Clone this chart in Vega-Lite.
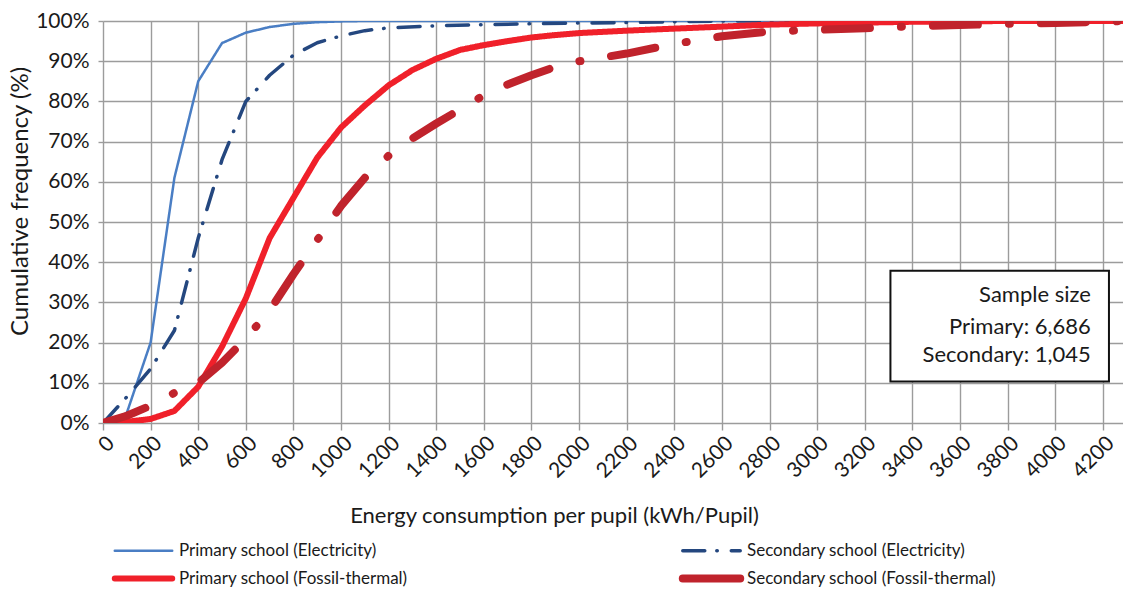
{
  "$schema": "https://vega.github.io/schema/vega-lite/v6.json",
  "width": 1020,
  "height": 402,
  "autosize": {"type": "none"},
  "padding": {"left": 103, "top": 21, "right": 0, "bottom": 169},
  "background": "white",
  "config": {
    "view": {"stroke": null},
    "font": "Lato",
    "axis": {"labelFont": "Lato", "titleFont": "Lato", "labelColor": "#1a1a1a", "titleColor": "#1a1a1a", "titleFontWeight": "normal"},
    "legend": {"labelFont": "Lato"}
  },
  "datasets": {
    "curves": [
      {"series": "Primary school (Electricity)", "x": 0, "y": 0},
      {"series": "Primary school (Electricity)", "x": 100, "y": 2.5},
      {"series": "Primary school (Electricity)", "x": 200, "y": 20},
      {"series": "Primary school (Electricity)", "x": 300, "y": 61},
      {"series": "Primary school (Electricity)", "x": 400, "y": 85},
      {"series": "Primary school (Electricity)", "x": 500, "y": 94.5},
      {"series": "Primary school (Electricity)", "x": 600, "y": 97.1},
      {"series": "Primary school (Electricity)", "x": 700, "y": 98.5},
      {"series": "Primary school (Electricity)", "x": 800, "y": 99.3},
      {"series": "Primary school (Electricity)", "x": 900, "y": 99.7},
      {"series": "Primary school (Electricity)", "x": 1000, "y": 99.9},
      {"series": "Primary school (Electricity)", "x": 1100, "y": 100},
      {"series": "Primary school (Electricity)", "x": 4300, "y": 100},
      {"series": "Secondary school (Electricity)", "x": 0, "y": 0},
      {"series": "Secondary school (Electricity)", "x": 100, "y": 6.5},
      {"series": "Secondary school (Electricity)", "x": 200, "y": 13.5},
      {"series": "Secondary school (Electricity)", "x": 300, "y": 23},
      {"series": "Secondary school (Electricity)", "x": 400, "y": 46},
      {"series": "Secondary school (Electricity)", "x": 500, "y": 65.5},
      {"series": "Secondary school (Electricity)", "x": 600, "y": 80},
      {"series": "Secondary school (Electricity)", "x": 700, "y": 86.5},
      {"series": "Secondary school (Electricity)", "x": 800, "y": 91.5},
      {"series": "Secondary school (Electricity)", "x": 900, "y": 94.6},
      {"series": "Secondary school (Electricity)", "x": 1000, "y": 96.3},
      {"series": "Secondary school (Electricity)", "x": 1100, "y": 97.6},
      {"series": "Secondary school (Electricity)", "x": 1200, "y": 98.3},
      {"series": "Secondary school (Electricity)", "x": 1400, "y": 98.8},
      {"series": "Secondary school (Electricity)", "x": 1600, "y": 99.1},
      {"series": "Secondary school (Electricity)", "x": 1800, "y": 99.3},
      {"series": "Secondary school (Electricity)", "x": 2000, "y": 99.5},
      {"series": "Secondary school (Electricity)", "x": 2200, "y": 99.6},
      {"series": "Secondary school (Electricity)", "x": 2400, "y": 99.8},
      {"series": "Secondary school (Electricity)", "x": 2600, "y": 100},
      {"series": "Secondary school (Electricity)", "x": 4300, "y": 100},
      {"series": "Primary school (Fossil-thermal)", "x": 0, "y": 0},
      {"series": "Primary school (Fossil-thermal)", "x": 100, "y": 0.3},
      {"series": "Primary school (Fossil-thermal)", "x": 200, "y": 1},
      {"series": "Primary school (Fossil-thermal)", "x": 300, "y": 3},
      {"series": "Primary school (Fossil-thermal)", "x": 400, "y": 9},
      {"series": "Primary school (Fossil-thermal)", "x": 500, "y": 19},
      {"series": "Primary school (Fossil-thermal)", "x": 600, "y": 31},
      {"series": "Primary school (Fossil-thermal)", "x": 700, "y": 46},
      {"series": "Primary school (Fossil-thermal)", "x": 800, "y": 56},
      {"series": "Primary school (Fossil-thermal)", "x": 900, "y": 66},
      {"series": "Primary school (Fossil-thermal)", "x": 1000, "y": 73.5},
      {"series": "Primary school (Fossil-thermal)", "x": 1100, "y": 79},
      {"series": "Primary school (Fossil-thermal)", "x": 1200, "y": 84},
      {"series": "Primary school (Fossil-thermal)", "x": 1300, "y": 87.8},
      {"series": "Primary school (Fossil-thermal)", "x": 1400, "y": 90.6},
      {"series": "Primary school (Fossil-thermal)", "x": 1500, "y": 92.8},
      {"series": "Primary school (Fossil-thermal)", "x": 1600, "y": 94},
      {"series": "Primary school (Fossil-thermal)", "x": 1700, "y": 95},
      {"series": "Primary school (Fossil-thermal)", "x": 1800, "y": 95.9},
      {"series": "Primary school (Fossil-thermal)", "x": 1900, "y": 96.5},
      {"series": "Primary school (Fossil-thermal)", "x": 2000, "y": 97},
      {"series": "Primary school (Fossil-thermal)", "x": 2200, "y": 97.6},
      {"series": "Primary school (Fossil-thermal)", "x": 2400, "y": 98.1},
      {"series": "Primary school (Fossil-thermal)", "x": 2600, "y": 98.6},
      {"series": "Primary school (Fossil-thermal)", "x": 2800, "y": 99.1},
      {"series": "Primary school (Fossil-thermal)", "x": 3000, "y": 99.4},
      {"series": "Primary school (Fossil-thermal)", "x": 3200, "y": 99.6},
      {"series": "Primary school (Fossil-thermal)", "x": 3400, "y": 99.8},
      {"series": "Primary school (Fossil-thermal)", "x": 3600, "y": 99.9},
      {"series": "Primary school (Fossil-thermal)", "x": 3800, "y": 100},
      {"series": "Primary school (Fossil-thermal)", "x": 4300, "y": 100},
      {"series": "Secondary school (Fossil-thermal)", "x": 0, "y": 0},
      {"series": "Secondary school (Fossil-thermal)", "x": 100, "y": 1.8},
      {"series": "Secondary school (Fossil-thermal)", "x": 200, "y": 4.3},
      {"series": "Secondary school (Fossil-thermal)", "x": 300, "y": 7.5},
      {"series": "Secondary school (Fossil-thermal)", "x": 400, "y": 10},
      {"series": "Secondary school (Fossil-thermal)", "x": 500, "y": 15},
      {"series": "Secondary school (Fossil-thermal)", "x": 600, "y": 21},
      {"series": "Secondary school (Fossil-thermal)", "x": 700, "y": 28},
      {"series": "Secondary school (Fossil-thermal)", "x": 800, "y": 37},
      {"series": "Secondary school (Fossil-thermal)", "x": 900, "y": 45.5},
      {"series": "Secondary school (Fossil-thermal)", "x": 1000, "y": 54},
      {"series": "Secondary school (Fossil-thermal)", "x": 1100, "y": 61},
      {"series": "Secondary school (Fossil-thermal)", "x": 1200, "y": 66.5},
      {"series": "Secondary school (Fossil-thermal)", "x": 1300, "y": 70.8},
      {"series": "Secondary school (Fossil-thermal)", "x": 1400, "y": 74.5},
      {"series": "Secondary school (Fossil-thermal)", "x": 1500, "y": 78},
      {"series": "Secondary school (Fossil-thermal)", "x": 1600, "y": 81.5},
      {"series": "Secondary school (Fossil-thermal)", "x": 1700, "y": 84.2},
      {"series": "Secondary school (Fossil-thermal)", "x": 1800, "y": 86.5},
      {"series": "Secondary school (Fossil-thermal)", "x": 1900, "y": 88.6},
      {"series": "Secondary school (Fossil-thermal)", "x": 2000, "y": 90},
      {"series": "Secondary school (Fossil-thermal)", "x": 2200, "y": 91.9},
      {"series": "Secondary school (Fossil-thermal)", "x": 2400, "y": 94.3},
      {"series": "Secondary school (Fossil-thermal)", "x": 2600, "y": 96.2},
      {"series": "Secondary school (Fossil-thermal)", "x": 2800, "y": 97.4},
      {"series": "Secondary school (Fossil-thermal)", "x": 3000, "y": 97.8},
      {"series": "Secondary school (Fossil-thermal)", "x": 3200, "y": 98.2},
      {"series": "Secondary school (Fossil-thermal)", "x": 3400, "y": 98.7},
      {"series": "Secondary school (Fossil-thermal)", "x": 3600, "y": 99},
      {"series": "Secondary school (Fossil-thermal)", "x": 3800, "y": 99.3},
      {"series": "Secondary school (Fossil-thermal)", "x": 4000, "y": 99.5},
      {"series": "Secondary school (Fossil-thermal)", "x": 4300, "y": 100}
    ],
    "box": [{"x": 3308, "x2": 4226, "y": 10.3, "y2": 37.9}],
    "notes": [
      {"text": "Sample size", "x": 4150, "y": 31.8},
      {"text": "Primary: 6,686", "x": 4150, "y": 24.0},
      {"text": "Secondary: 1,045", "x": 4150, "y": 16.9}
    ]
  },
  "layer": [
    {
      "data": {"name": "curves"},
      "mark": {"type": "line", "strokeCap": "round", "strokeJoin": "round", "clip": true},
      "encoding": {
        "x": {
          "field": "x", "type": "quantitative",
          "scale": {"domain": [0, 4285], "nice": false, "zero": false},
          "axis": {
            "title": "Energy consumption per pupil (kWh/Pupil)",
            "titleFontSize": 22,
            "titleX": 451,
            "titleY": 92,
            "titleBaseline": "middle",
            "titleAlign": "center",
            "values": [0,50,100,150,200,250,300,350,400,450,500,550,600,650,700,750,800,850,900,950,1000,1050,1100,1150,1200,1250,1300,1350,1400,1450,1500,1550,1600,1650,1700,1750,1800,1850,1900,1950,2000,2050,2100,2150,2200,2250,2300,2350,2400,2450,2500,2550,2600,2650,2700,2750,2800,2850,2900,2950,3000,3050,3100,3150,3200,3250,3300,3350,3400,3450,3500,3550,3600,3650,3700,3750,3800,3850,3900,3950,4000,4050,4100,4150,4200,4250],
            "format": "d",
            "labelExpr": "datum.value % 200 === 0 ? datum.label : ''",
            "labelAngle": -45,
            "labelAlign": "right",
            "labelBaseline": "top",
            "labelFontSize": 21,
            "labelPadding": 2,
            "labelOverlap": false,
            "labelFlush": false,
            "domain": false,
            "tickSize": 7,
            "tickColor": "#999999",
            "tickWidth": 1.4,
            "tickOpacity": {"condition": {"test": "datum.value % 100 === 0", "value": 1}, "value": 0},
            "grid": true,
            "gridColor": {"condition": {"test": "datum.value % 100 === 0", "value": "#9c9c9c"}, "value": "#cfcfcf"},
            "gridWidth": 1.4,
            "gridOpacity": 1
          }
        },
        "y": {
          "field": "y", "type": "quantitative",
          "scale": {"domain": [0, 100], "nice": false},
          "axis": {
            "title": "Cumulative frequency (%)",
            "titleFontSize": 24,
            "titleX": -83,
            "titleY": 180,
            "titleAngle": -90,
            "titleAlign": "center",
            "titleBaseline": "middle",
            "values": [0,10,20,30,40,50,60,70,80,90,100],
            "labelExpr": "datum.value + '%'",
            "labelFontSize": 21,
            "labelPadding": 9,
            "domain": false,
            "tickSize": 5,
            "tickColor": "#9c9c9c",
            "tickWidth": 1.4,
            "grid": true,
            "gridColor": "#9c9c9c",
            "gridWidth": 1.4,
            "gridOpacity": 1
          }
        },
        "color": {
          "field": "series", "type": "nominal",
          "sort": ["Primary school (Electricity)", "Primary school (Fossil-thermal)", "Secondary school (Electricity)", "Secondary school (Fossil-thermal)"],
          "scale": {
            "domain": ["Primary school (Electricity)", "Primary school (Fossil-thermal)", "Secondary school (Electricity)", "Secondary school (Fossil-thermal)"],
            "range": ["#4a7ec4", "#f0202a", "#24477f", "#c0232c"]
          },
          "legend": {
            "title": null,
            "orient": "none",
            "legendX": 32,
            "legendY": 521,
            "columns": 2,
            "columnPadding": 258,
            "rowPadding": 3,
            "symbolType": "stroke",
            "symbolSize": 3300,
            "labelFontSize": 17,
            "labelColor": "#1a1a1a",
            "labelOffset": 27,
            "labelLimit": 400,
            "encode": {
              "symbols": {
                "update": {
                  "strokeWidth": {"signal": "datum.value === 'Secondary school (Fossil-thermal)' ? 8 : datum.value === 'Primary school (Fossil-thermal)' ? 6 : datum.value === 'Secondary school (Electricity)' ? 3.5 : 2.5"},
                  "strokeDash": {"signal": "datum.value === 'Secondary school (Electricity)' ? [22, 12, 0.5, 14] : [1, 0]"},
                  "strokeCap": {"value": "round"}
                }
              }
            }
          }
        },
        "strokeWidth": {
          "condition": [
            {"test": "datum.series === 'Secondary school (Fossil-thermal)'", "value": 8},
            {"test": "datum.series === 'Primary school (Fossil-thermal)'", "value": 6},
            {"test": "datum.series === 'Secondary school (Electricity)'", "value": 3.5}
          ],
          "value": 2.5
        },
        "strokeDash": {
          "condition": [
            {"test": "datum.series === 'Secondary school (Fossil-thermal)'", "value": [45, 31, 1, 31]},
            {"test": "datum.series === 'Secondary school (Electricity)'", "value": [22, 12, 0.5, 14]}
          ],
          "value": [1, 0]
        }
      }
    },
    {
      "data": {"name": "box"},
      "mark": {"type": "rect", "fill": "white", "stroke": "#111111", "strokeWidth": 2},
      "encoding": {
        "x": {"field": "x", "type": "quantitative"},
        "x2": {"field": "x2"},
        "y": {"field": "y", "type": "quantitative"},
        "y2": {"field": "y2"}
      }
    },
    {
      "data": {"name": "notes"},
      "mark": {"type": "text", "align": "right", "baseline": "middle", "fontSize": 22, "font": "Lato", "color": "#1a1a1a"},
      "encoding": {
        "x": {"field": "x", "type": "quantitative"},
        "y": {"field": "y", "type": "quantitative"},
        "text": {"field": "text"}
      }
    }
  ]
}
